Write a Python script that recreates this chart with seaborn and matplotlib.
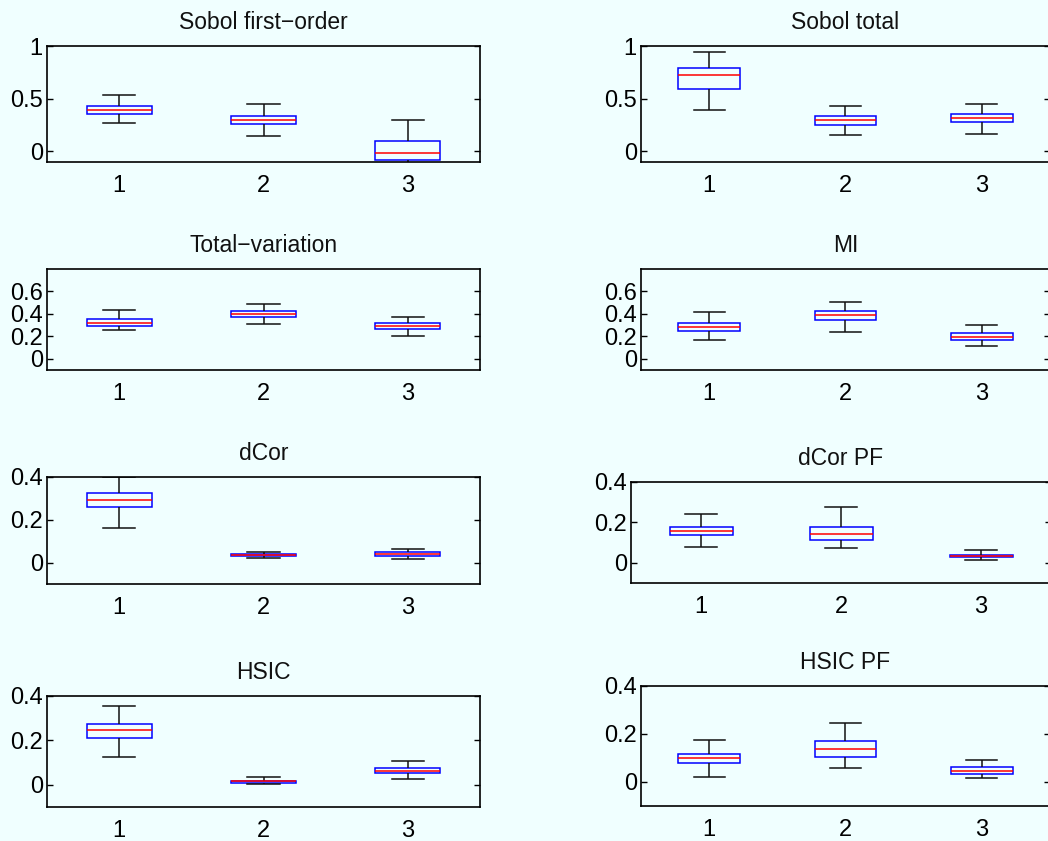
import numpy as np
import pandas as pd
import matplotlib
matplotlib.use("Agg")
import matplotlib.pyplot as plt
import seaborn as sns

# ---------------- data: per box [whisker low, q1, median, q3, whisker high] -------------
groups = ["1", "2", "3"]
titles = ["Sobol first\u2212order", "Sobol total", "Total\u2212variation", "MI",
          "dCor", "dCor PF", "HSIC", "HSIC PF"]

sobol_first = [[0.267, 0.359, 0.397, 0.432, 0.537],
               [0.146, 0.257, 0.298, 0.333, 0.454],
               [-0.25, -0.083, -0.013, 0.095, 0.295]]
sobol_total = [[0.392, 0.595, 0.728, 0.794, 0.946],
               [0.155, 0.247, 0.301, 0.339, 0.427],
               [0.168, 0.275, 0.316, 0.351, 0.446]]
total_variation = [[0.254, 0.293, 0.319, 0.355, 0.433],
                   [0.313, 0.370, 0.400, 0.427, 0.487],
                   [0.206, 0.266, 0.290, 0.316, 0.370]]
mi = [[0.170, 0.248, 0.281, 0.319, 0.418],
      [0.242, 0.349, 0.391, 0.427, 0.507],
      [0.116, 0.167, 0.197, 0.227, 0.299]]
dcor = [[0.163, 0.258, 0.291, 0.324, 0.400],
        [0.023, 0.030, 0.034, 0.039, 0.048],
        [0.016, 0.031, 0.039, 0.048, 0.062]]
dcor_pf = [[0.078, 0.137, 0.155, 0.178, 0.243],
           [0.073, 0.112, 0.143, 0.178, 0.275],
           [0.015, 0.028, 0.035, 0.040, 0.063]]
hsic = [[0.126, 0.210, 0.246, 0.276, 0.355],
        [0.004, 0.009, 0.015, 0.019, 0.033],
        [0.024, 0.052, 0.063, 0.075, 0.106]]
hsic_pf = [[0.022, 0.081, 0.099, 0.118, 0.176],
           [0.060, 0.104, 0.1375, 0.172, 0.244],
           [0.018, 0.035, 0.047, 0.0625, 0.093]]

panels = [sobol_first, sobol_total, total_variation, mi, dcor, dcor_pf, hsic, hsic_pf]
ylims = [(-0.1, 1.0), (-0.1, 1.0), (-0.1, 0.8), (-0.1, 0.8),
         (-0.1, 0.4), (-0.1, 0.4), (-0.1, 0.4), (-0.1, 0.4)]
yticks = [[0, 0.5, 1], [0, 0.5, 1], [0, 0.2, 0.4, 0.6], [0, 0.2, 0.4, 0.6],
          [0, 0.2, 0.4], [0, 0.2, 0.4], [0, 0.2, 0.4], [0, 0.2, 0.4]]
ytick_labels = [["0", "0.5", "1"], ["0", "0.5", "1"], ["0", "0.2", "0.4", "0.6"],
                ["0", "0.2", "0.4", "0.6"], ["0", "0.2", "0.4"], ["0", "0.2", "0.4"],
                ["0", "0.2", "0.4"], ["0", "0.2", "0.4"]]

# axes boxes in pixels: (left, top, right, bottom)
W, H = 1048, 841
boxes_px = [(47, 46, 480, 162), (641, 46, 1050, 162),
            (47, 269, 480, 370), (641, 269, 1050, 370),
            (47, 477, 480, 584), (631, 482, 1051, 583),
            (47, 696, 480, 807), (641, 686, 1050, 806)]

bg = "#F0FFFF"
plt.rcParams["font.family"] = ["Liberation Sans", "DejaVu Sans"]
plt.rcParams["axes.linewidth"] = 1.2

fig = plt.figure(figsize=(W / 100, H / 100), dpi=100, facecolor=bg)

lw = 1.1
for i, vals in enumerate(panels):
    l, t, r, b = boxes_px[i]
    ax = fig.add_axes([l / W, 1 - b / H, (r - l) / W, (b - t) / H])
    ax.set_facecolor(bg)
    df = pd.DataFrame({"group": np.repeat(groups, 5),
                       "value": np.concatenate([np.asarray(v) for v in vals])})
    sns.boxplot(data=df, x="group", y="value", ax=ax, order=groups,
                width=0.45, whis=(0, 100), fill=True, linewidth=lw,
                boxprops=dict(facecolor="none", edgecolor="#0000FF", linewidth=lw),
                medianprops=dict(color="#FF0000", linewidth=lw),
                whiskerprops=dict(color="#111111", linewidth=lw),
                capprops=dict(color="#111111", linewidth=lw),
                showfliers=False)
    ax.set_xlim(-0.5, 2.5)
    ax.set_ylim(*ylims[i])
    ax.set_yticks(yticks[i])
    ax.set_yticklabels(ytick_labels[i])
    ax.set_xticks(range(len(groups)))
    ax.set_xticklabels(groups)
    ax.set_xlabel("")
    ax.set_ylabel("")
    ax.tick_params(axis="y", direction="in", length=4, width=1.0, left=True,
                   right=True, labelsize=17, pad=3, colors="black")
    ax.tick_params(axis="x", length=0, labelsize=17, pad=9.5, colors="black")
    for s in ax.spines.values():
        s.set_color("black")
        s.set_visible(True)
    ax.set_title(titles[i], fontsize=16.5, pad=12.5, color="#111111")

fig.savefig("out.png", dpi=100, facecolor=bg)
